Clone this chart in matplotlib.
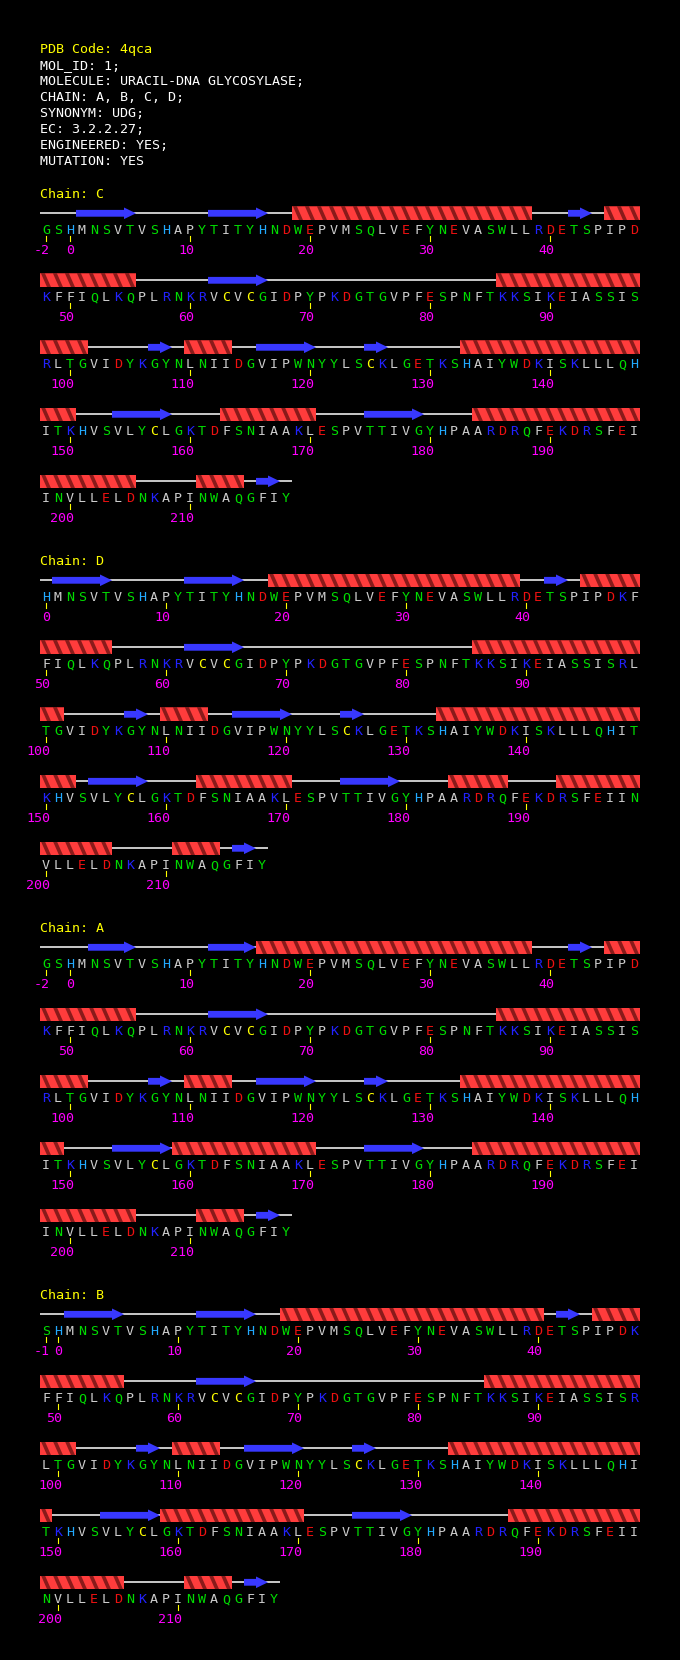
import matplotlib
matplotlib.use("Agg")
import matplotlib.pyplot as plt
from matplotlib.patches import Polygon, Rectangle

# ---------------- data ----------------
HEADER_LINES = [
    "PDB Code: 4qca",
    "MOL_ID: 1;",
    "MOLECULE: URACIL-DNA GLYCOSYLASE;",
    "CHAIN: A, B, C, D;",
    "SYNONYM: UDG;",
    "EC: 3.2.2.27;",
    "ENGINEERED: YES;",
    "MUTATION: YES",
]

SEQUENCE = ("GSHMNSVTVSHAPYTITYHNDWEPVMSQLVEFYNEVASWLLRDETSPIPD"
            "KFFIQLKQPLRNKRVCVCGIDPYPKDGTGVPFESPNFTKKSIKEIASSIS"
            "RLTGVIDYKGYNLNIIDGVIPWNYYLSCKLGETKSHAIYWDKISKLLLQH"
            "ITKHVSVLYCLGKTDFSNIAAKLESPVTTIVGYHPAARDRQFEKDRSFEI"
            "INVLLELDNKAPINWAQGFIY")
SEQ_FIRST = -2
SEQ_LAST = 218

CHAIN_NAMES = ["C", "D", "A", "B"]
CHAIN_FIRST = [-2, 0, -2, -1]

HELICES = {
    "C": [(19, 38), (45, 55), (86, 101), (110, 113), (133, 150), (163, 170), (184, 205), (211, 214)],
    "D": [(19, 39), (45, 55), (86, 101), (110, 113), (133, 152), (163, 170), (184, 188), (193, 205), (211, 214)],
    "A": [(16, 38), (45, 55), (86, 101), (110, 113), (133, 149), (159, 170), (184, 205), (211, 214)],
    "B": [(19, 40), (45, 55), (86, 101), (110, 113), (133, 149), (159, 170), (188, 205), (211, 214)],
}
STRANDS = {
    "C": [(1, 5), (12, 16), (42, 43), (62, 66), (107, 108), (116, 120), (125, 126), (154, 158), (175, 179), (216, 217)],
    "D": [(1, 5), (12, 16), (42, 43), (62, 66), (107, 108), (116, 120), (125, 126), (154, 158), (175, 179), (216, 217)],
    "A": [(2, 5), (12, 15), (42, 43), (62, 66), (107, 108), (116, 120), (125, 126), (154, 158), (175, 179), (216, 217)],
    "B": [(1, 5), (12, 16), (42, 43), (62, 66), (107, 108), (116, 120), (125, 126), (154, 158), (175, 179), (216, 217)],
}

RES_COLORS = {}
for aa in "GSTNQYW":
    RES_COLORS[aa] = "#00dd00"
for aa in "AVLIMFP":
    RES_COLORS[aa] = "#cccccc"
for aa in "KR":
    RES_COLORS[aa] = "#2222ff"
RES_COLORS["H"] = "#22aaff"
for aa in "DE":
    RES_COLORS[aa] = "#ee1111"
RES_COLORS["C"] = "#ffff00"

PER_ROW = 50

# ---------------- style ----------------
FONT = "DejaVu Sans Mono"
FS = 9.6
YELLOW = "#ffff00"
MAGENTA = "#ff00ff"
HELIX_BRIGHT = "#ff3c3c"
HELIX_DARK = "#8a1a1a"
STRAND_COL = "#3838ff"

fig = plt.figure(figsize=(6.8, 16.6), dpi=100, facecolor="black")
ax = fig.add_axes([0, 0, 1, 1])
ax.set_facecolor("black")
ax.set_xlim(0, 680)
ax.set_ylim(1660, 0)
ax.axis("off")

X0 = 40.0      # left edge of first residue cell
CELL = 12.0    # width of one residue cell

for k, line in enumerate(HEADER_LINES):
    ax.text(X0, 53.3 + 16 * k, line, color=YELLOW if k == 0 else "white",
            fontsize=FS, family=FONT, ha="left", va="baseline")

BLOCK = 367.0
ROWSTEP = 67.0

for c, name in enumerate(CHAIN_NAMES):
    yoff = BLOCK * c
    first = CHAIN_FIRST[c]
    ax.text(X0, 197.8 + yoff, "Chain: " + name, color=YELLOW,
            fontsize=FS, family=FONT, ha="left", va="baseline")
    residues = list(range(first, SEQ_LAST + 1))
    for r0 in range(0, len(residues), PER_ROW):
        row = residues[r0:r0 + PER_ROW]
        ry = 213.3 + ROWSTEP * (r0 // PER_ROW) + yoff
        lo, hi = row[0], row[-1]
        # coil line
        ax.plot([X0, X0 + CELL * len(row)], [ry, ry], color="white", lw=1.1,
                solid_capstyle="butt", zorder=1)
        # helices
        top, bot = ry - 6.8, ry + 6.8
        for (a, b) in HELICES[name]:
            s, e = max(a, lo), min(b, hi)
            if s > e:
                continue
            xa = X0 + CELL * (s - lo)
            xb = X0 + CELL * (e - lo + 1)
            rect = Rectangle((xa, top), xb - xa, bot - top, facecolor=HELIX_DARK,
                             edgecolor="none", zorder=2)
            ax.add_patch(rect)
            for j in range(s - lo - 1, e - lo + 1):
                xj = X0 + CELL * j
                poly = Polygon([(xj + 5, top), (xj + 13, top), (xj + 19, bot), (xj + 11, bot)],
                               closed=True, facecolor=HELIX_BRIGHT, edgecolor="none", zorder=3)
                ax.add_patch(poly)
                poly.set_clip_path(rect)
        # strands
        for (a, b) in STRANDS[name]:
            s, e = max(a, lo), min(b, hi)
            if s > e:
                continue
            xa = X0 + CELL * (s - lo)
            xb = X0 + CELL * (e - lo + 1)
            if e == b:
                hx = xb - 12
                pts = [(xa, ry - 3.4), (hx, ry - 3.4), (hx, ry - 5.8), (xb, ry),
                       (hx, ry + 5.8), (hx, ry + 3.4), (xa, ry + 3.4)]
            else:
                pts = [(xa, ry - 3.4), (xb, ry - 3.4), (xb, ry + 3.4), (xa, ry + 3.4)]
            ax.add_patch(Polygon(pts, closed=True, facecolor=STRAND_COL,
                                 edgecolor="none", zorder=3))
        # residues, ticks, numbers
        for i, num in enumerate(row):
            aa = SEQUENCE[num - SEQ_FIRST]
            xc = X0 + CELL * i + CELL / 2
            ax.text(xc, ry + 21, aa, color=RES_COLORS[aa], fontsize=FS, family=FONT,
                    ha="center", va="baseline")
            if num % 10 == 0 or num == first:
                ax.plot([xc, xc], [ry + 22.7, ry + 28], color=YELLOW, lw=0.8)
                ax.text(xc + 4, ry + 40.7, str(num), color=MAGENTA, fontsize=FS,
                        family=FONT, ha="right", va="baseline")

fig.savefig("out.png", dpi=100, facecolor="black")
